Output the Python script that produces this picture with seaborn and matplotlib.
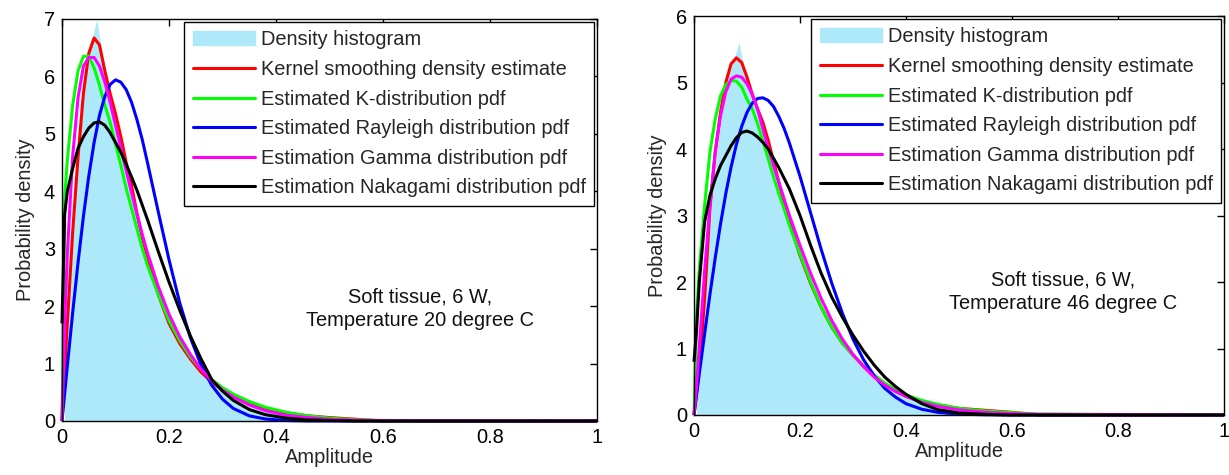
import numpy as np
import pandas as pd
import matplotlib
matplotlib.use("Agg")
import matplotlib.pyplot as plt
from matplotlib.patches import Patch
from matplotlib.lines import Line2D
import seaborn as sns

# ---------------- data ----------------
series_names = ["Density histogram", "Kernel smoothing density estimate",
                "Estimated K-distribution pdf", "Estimated Rayleigh distribution pdf",
                "Estimation Gamma distribution pdf", "Estimation Nakagami distribution pdf"]
x_tick_values = [0, 0.2, 0.4, 0.6, 0.8, 1]
x_tick_labels = ["0", "0.2", "0.4", "0.6", "0.8", "1"]

# left panel: 20 degree C
x_left = [0, 0.005, 0.01, 0.02, 0.03, 0.04, 0.05, 0.06, 0.07, 0.08, 0.09, 0.10, 0.11,
          0.12, 0.13, 0.14, 0.15, 0.16, 0.18, 0.20, 0.22, 0.24, 0.26, 0.28, 0.30, 0.32,
          0.35, 0.38, 0.42, 0.46, 0.50, 0.55, 0.60, 1.0]
kde_left = [0, 0.9, 1.7, 3.3, 4.6, 5.7, 6.4, 6.67, 6.55, 6.1, 5.7, 5.35, 4.95,
            4.5, 4.1, 3.62, 3.2, 2.85, 2.2, 1.7, 1.35, 1.08, 0.85, 0.68, 0.54, 0.43,
            0.31, 0.22, 0.14, 0.09, 0.06, 0.03, 0, 0]
kdist_left = [0, 3.9, 4.55, 5.5, 6.1, 6.35, 6.35, 6.15, 5.85, 5.5, 5.2, 4.82, 4.45,
              4.05, 3.7, 3.35, 3.0, 2.7, 2.2, 1.75, 1.4, 1.12, 0.9, 0.72, 0.58, 0.47,
              0.34, 0.24, 0.15, 0.09, 0.05, 0.02, 0.01, 0]
rayleigh_left = [0, 0.48, 0.96, 1.89, 2.76, 3.56, 4.26, 4.85, 5.32, 5.65, 5.86, 5.94, 5.9,
                 5.77, 5.55, 5.25, 4.9, 4.49, 3.64, 2.81, 2.06, 1.45, 0.97, 0.62, 0.38, 0.22,
                 0.09, 0.035, 0.008, 0, 0, 0, 0, 0]
gamma_left = [0, 1.7, 2.92, 4.62, 5.63, 6.18, 6.33, 6.33, 6.18, 5.9, 5.55, 5.15, 4.76,
              4.36, 3.97, 3.6, 3.25, 2.92, 2.34, 1.86, 1.47, 1.16, 0.9, 0.70, 0.54, 0.42,
              0.28, 0.18, 0.10, 0.06, 0.03, 0.013, 0.006, 0]
nakagami_left = [1.7, 3.6, 4.0, 4.4, 4.75, 4.95, 5.1, 5.19, 5.21, 5.15, 5.02, 4.85, 4.68,
                 4.47, 4.25, 4.02, 3.76, 3.5, 2.95, 2.42, 1.93, 1.48, 1.08, 0.72, 0.52, 0.36,
                 0.2, 0.11, 0.05, 0.02, 0.01, 0, 0, 0]
hist_left = [1.2, 2.6, 4.0, 5.2, 6.1, 6.6, 7.0, 6.4, 5.95, 5.55, 5.15, 4.72, 4.3, 3.85,
             3.42, 3.02, 2.68, 2.36, 2.07, 1.82, 1.6, 1.42, 1.27, 1.14, 1.02, 0.9, 0.8,
             0.72, 0.64, 0.57, 0.51, 0.46, 0.41, 0.37, 0.33, 0.29, 0.26, 0.23, 0.2, 0.18,
             0.16, 0.14, 0.12, 0.11, 0.1, 0.09, 0.08, 0.07, 0.06, 0.05, 0.05, 0.04, 0.03,
             0.03, 0.02, 0.02]
label_left = "Soft tissue, 6 W,\nTemperature 20 degree C"

# right panel: 46 degree C
x_right = [0, 0.005, 0.01, 0.02, 0.03, 0.04, 0.05, 0.06, 0.07, 0.08, 0.09, 0.10, 0.11,
           0.12, 0.13, 0.14, 0.15, 0.16, 0.17, 0.18, 0.20, 0.22, 0.24, 0.26, 0.28, 0.30,
           0.32, 0.34, 0.36, 0.38, 0.40, 0.43, 0.46, 0.50, 0.55, 0.60, 0.65, 1.0]
kde_right = [0, 0.35, 0.7, 1.75, 3.1, 3.95, 4.55, 5.0, 5.28, 5.37, 5.3, 5.08, 4.82,
             4.6, 4.4, 4.13, 3.82, 3.5, 3.2, 2.9, 2.4, 1.98, 1.62, 1.32, 1.08, 0.9,
             0.73, 0.58, 0.46, 0.36, 0.28, 0.2, 0.15, 0.1, 0.07, 0.04, 0, 0]
kdist_right = [0, 1.5, 2.2, 3.15, 3.95, 4.45, 4.8, 4.97, 5.03, 5.02, 4.93, 4.75, 4.6,
               4.38, 4.12, 3.85, 3.58, 3.33, 3.1, 2.85, 2.42, 2.0, 1.62, 1.32, 1.08, 0.9,
               0.74, 0.6, 0.48, 0.38, 0.3, 0.22, 0.16, 0.1, 0.06, 0.035, 0.015, 0]
rayleigh_right = [0, 0.31, 0.62, 1.22, 1.81, 2.36, 2.87, 3.33, 3.73, 4.07, 4.34, 4.55, 4.69,
                  4.76, 4.77, 4.73, 4.64, 4.49, 4.31, 4.09, 3.59, 3.04, 2.49, 1.98, 1.53, 1.14,
                  0.83, 0.59, 0.40, 0.27, 0.17, 0.086, 0.04, 0.013, 0.003, 0, 0, 0]
gamma_right = [0, 0.45, 1.03, 2.17, 3.14, 3.95, 4.5, 4.86, 5.05, 5.1, 5.08, 4.98, 4.82,
               4.6, 4.3, 4.02, 3.75, 3.5, 3.25, 3.0, 2.55, 2.13, 1.75, 1.42, 1.14, 0.91,
               0.73, 0.57, 0.45, 0.355, 0.28, 0.19, 0.13, 0.077, 0.04, 0.02, 0.01, 0]
nakagami_right = [0.8, 1.3, 2.0, 2.9, 3.3, 3.55, 3.75, 3.9, 4.05, 4.17, 4.25, 4.27, 4.24,
                  4.18, 4.1, 4.0, 3.86, 3.72, 3.56, 3.4, 3.0, 2.55, 2.13, 1.77, 1.47, 1.2,
                  0.96, 0.75, 0.57, 0.43, 0.31, 0.17, 0.08, 0.03, 0.01, 0, 0, 0]
hist_right = [0.5, 1.3, 2.4, 3.4, 4.1, 4.7, 5.1, 5.35, 5.6, 5.2, 4.95, 4.72, 4.5, 4.25,
              3.97, 3.66, 3.35, 3.05, 2.77, 2.52, 2.3, 2.08, 1.88, 1.7, 1.54, 1.39, 1.26,
              1.14, 1.03, 0.93, 0.84, 0.76, 0.68, 0.61, 0.55, 0.49, 0.44, 0.39, 0.35, 0.31,
              0.28, 0.25, 0.22, 0.2, 0.18, 0.16, 0.14, 0.13, 0.12, 0.11, 0.1, 0.09, 0.08,
              0.075, 0.07, 0.06, 0.055, 0.05, 0.045, 0.04, 0.035, 0.03, 0.025]
label_right = "Soft tissue, 6 W,\nTemperature 46 degree C"

hist_binwidth = 0.01

# ---------------- style ----------------
sns.set_theme(style="white")
plt.rcParams["font.family"] = ["Liberation Sans", "DejaVu Sans"]
plt.rcParams["axes.edgecolor"] = "black"
plt.rcParams["axes.linewidth"] = 1.0
FS = 14.4

hist_color = "#aee9fa"
line_colors = ["#ff0000", "#00ff00", "#0000ff", "#ff00ff", "#000000"]
LW = 2.2

fig = plt.figure(figsize=(12.29, 4.75), dpi=100)
ax_l = fig.add_axes([62 / 1229, 1 - 421 / 475, 535 / 1229, 402 / 475])
ax_r = fig.add_axes([694 / 1229, 1 - 415 / 475, 530 / 1229, 399 / 475])


def draw(ax, xs, curves, hist_vals, ymax, note, note_xy):
    nb = len(hist_vals)
    centers = np.round((np.arange(nb) + 0.5) * hist_binwidth, 4)
    sns.histplot(x=centers, weights=hist_vals, binwidth=hist_binwidth,
                 binrange=(0, nb * hist_binwidth), element="poly", fill=True,
                 color=hist_color, alpha=1.0, linewidth=0, ax=ax, zorder=1)
    for vals, col in zip(curves, line_colors):
        df = pd.DataFrame({"x": xs, "y": vals})
        sns.lineplot(data=df, x="x", y="y", color=col, linewidth=LW, ax=ax,
                     zorder=3, solid_capstyle="butt", clip_on=False)
    ax.set_xlim(0, 1)
    ax.set_ylim(0, ymax)
    ax.set_xticks(x_tick_values)
    ax.set_xticklabels(x_tick_labels)
    ax.set_yticks(list(range(0, ymax + 1)))
    ax.tick_params(direction="in", length=5, width=1, top=True, right=True,
                   labelsize=FS, colors="black", pad=5)
    ax.set_xlabel("Amplitude", fontsize=FS, labelpad=1)
    ax.set_ylabel("Probability density", fontsize=FS, labelpad=6)
    for s in ax.spines.values():
        s.set_visible(True)
        s.set_color("black")
        s.set_linewidth(1.0)
        s.set_zorder(5)
    ax.text(note_xy[0], note_xy[1], note, fontsize=FS, ha="center", va="center",
            linespacing=1.3, color="#111111")
    handles = [Patch(facecolor=hist_color, edgecolor=hist_color)]
    handles += [Line2D([0], [0], color=c, linewidth=LW) for c in line_colors]
    leg = ax.legend(handles, series_names, loc="upper right", bbox_to_anchor=(1.0, 1.0),
                    fontsize=FS, frameon=True, fancybox=False, framealpha=1,
                    edgecolor="black", borderaxespad=0.15, borderpad=0.42,
                    labelspacing=0.53, handlelength=3.1, handletextpad=0.3)
    leg.get_frame().set_linewidth(1.0)
    leg.set_zorder(10)


draw(ax_l, x_left, [kde_left, kdist_left, rayleigh_left, gamma_left, nakagami_left],
     hist_left, 7, label_left, (0.67, 1.95))
draw(ax_r, x_right, [kde_right, kdist_right, rayleigh_right, gamma_right, nakagami_right],
     hist_right, 6, label_right, (0.696, 1.86))

fig.savefig("out.png", dpi=100)
